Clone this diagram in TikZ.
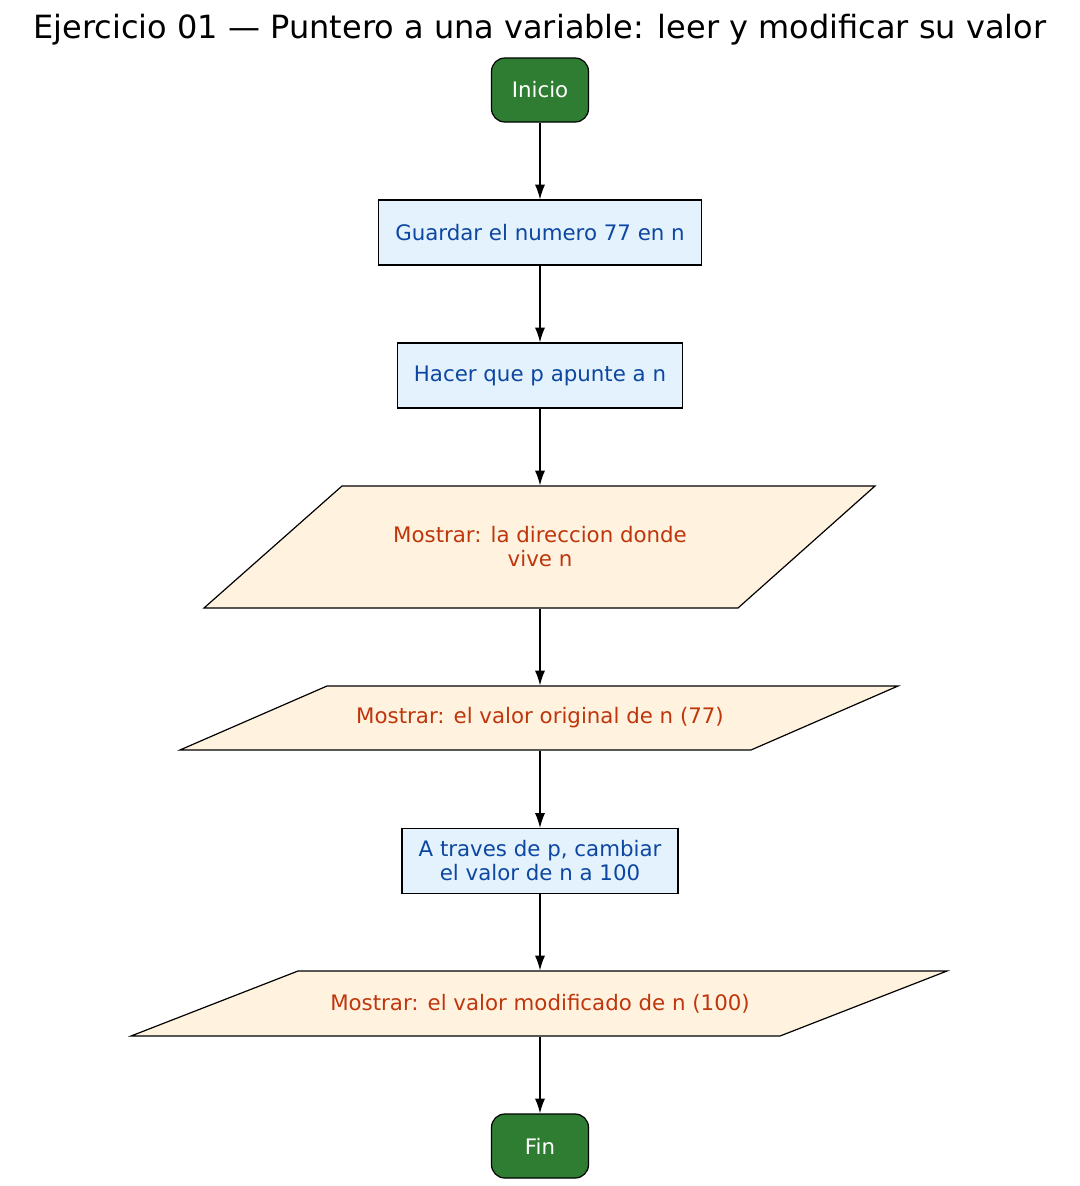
\documentclass[tikz,border=0pt]{standalone}
\usepackage{fontspec}
\setmainfont{DejaVu Sans}
\usetikzlibrary{arrows.meta,positioning}
\definecolor{termfill}{HTML}{2E7D32}
\definecolor{procfill}{HTML}{E3F2FD}
\definecolor{proctext}{HTML}{0D47A1}
\definecolor{iofill}{HTML}{FFF3E0}
\definecolor{iotext}{HTML}{BF360C}
\begin{document}
\begin{tikzpicture}[x=0.75pt,y=-0.75pt,line width=0.9pt,
  term/.style={draw,fill=termfill,text=white,rounded corners=10pt,minimum width=72.75pt,minimum height=48pt,font=\fontsize{16}{18}\selectfont},
  proc/.style={draw,fill=procfill,text=proctext,minimum height=48.75pt,align=center,font=\fontsize{16}{18}\selectfont},
  io/.style={text=iotext,align=center,inner sep=0pt,font=\fontsize{16}{18}\selectfont},
  flow/.style={-{Latex[length=11pt,width=7.5pt]}}]
  \useasboundingbox (0,0) rectangle (1080,1186);
  \node at (540,30) {\fontsize{24}{28}\selectfont Ejercicio 01 — Puntero a una variable: leer y modificar su valor};
  \node[term] (inicio) at (540,90) {Inicio};
  \node[proc,minimum width=242.25pt] (guardar) at (540,232.5) {Guardar el numero 77 en n};
  \node[proc,minimum width=213.75pt] (apuntar) at (540,375.5) {Hacer que p apunte a n};
  % parallelograms
  \draw[fill=iofill] (342,486) -- (875,486) -- (738,608) -- (204,608) -- cycle;
  \node[io,minimum height=91.5pt] (direccion) at (540,547) {Mostrar: la direccion donde\\vive n};
  \draw[fill=iofill] (327,686) -- (898,686) -- (751,750) -- (180,750) -- cycle;
  \node[io,minimum height=48pt] (original) at (540,718) {Mostrar: el valor original de n (77)};
  \node[proc,minimum width=207pt] (cambiar) at (540,861) {A traves de p, cambiar\\el valor de n a 100};
  \draw[fill=iofill] (298,971) -- (947,971) -- (780,1036) -- (131,1036) -- cycle;
  \node[io,minimum height=48.75pt] (modificado) at (540,1003.5) {Mostrar: el valor modificado de n (100)};
  \node[term] (fin) at (540,1146) {Fin};
  \draw[flow] (inicio) -- (guardar);
  \draw[flow] (guardar) -- (apuntar);
  \draw[flow] (apuntar) -- (direccion.north);
  \draw[flow] (direccion.south) -- (original.north);
  \draw[flow] (original.south) -- (cambiar);
  \draw[flow] (cambiar) -- (modificado.north);
  \draw[flow] (modificado.south) -- (fin);
\end{tikzpicture}
\end{document}
